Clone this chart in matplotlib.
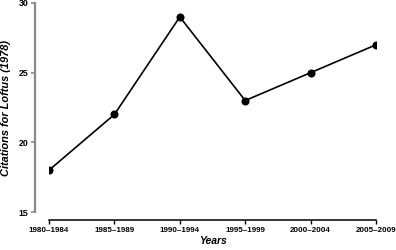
import matplotlib
matplotlib.use("Agg")
import matplotlib.pyplot as plt

plt.rcParams['font.family'] = ['Liberation Sans', 'DejaVu Sans']
plt.rcParams['font.weight'] = 'bold'

periods = ["1980–1984", "1985–1989", "1990–1994", "1995–1999", "2000–2004", "2005–2009"]
citations = [18, 22, 29, 23, 25, 27]
y_ticks = [15, 20, 25, 30]

fig = plt.figure(figsize=(3.96, 2.5), dpi=100)
ax = fig.add_axes([49 / 396, 38 / 250, 327 / 396, 209 / 250])

x = list(range(len(periods)))
ax.plot(x, citations, color='black', linewidth=1.2, marker='o', markersize=4.8)

ax.set_xlim(0, len(periods) - 1)
ax.set_ylim(15, 30)
ax.set_xticks(x, periods)
ax.set_yticks(y_ticks, [str(v) for v in y_ticks])

for side in ('top', 'right'):
    ax.spines[side].set_visible(False)
ax.spines['left'].set_position(('outward', 10))
ax.spines['bottom'].set_position(('outward', 6))
ax.spines['left'].set_color('#8a8a8a')
ax.spines['left'].set_linewidth(1.6)
ax.spines['bottom'].set_linewidth(1.1)
ax.tick_params(axis='y', length=3, width=1.2, color='#8a8a8a', pad=2, labelsize=6.3)
ax.tick_params(axis='x', length=3, width=1.0, pad=2, labelsize=5.8)

ax.set_ylabel('Citations for Loftus (1978)', fontsize=7.9, fontweight='bold',
              fontstyle='italic', labelpad=5)
ax.set_xlabel('Years', fontsize=7.5, fontweight='bold', fontstyle='italic', labelpad=1)

fig.savefig('out.png', dpi=100)
